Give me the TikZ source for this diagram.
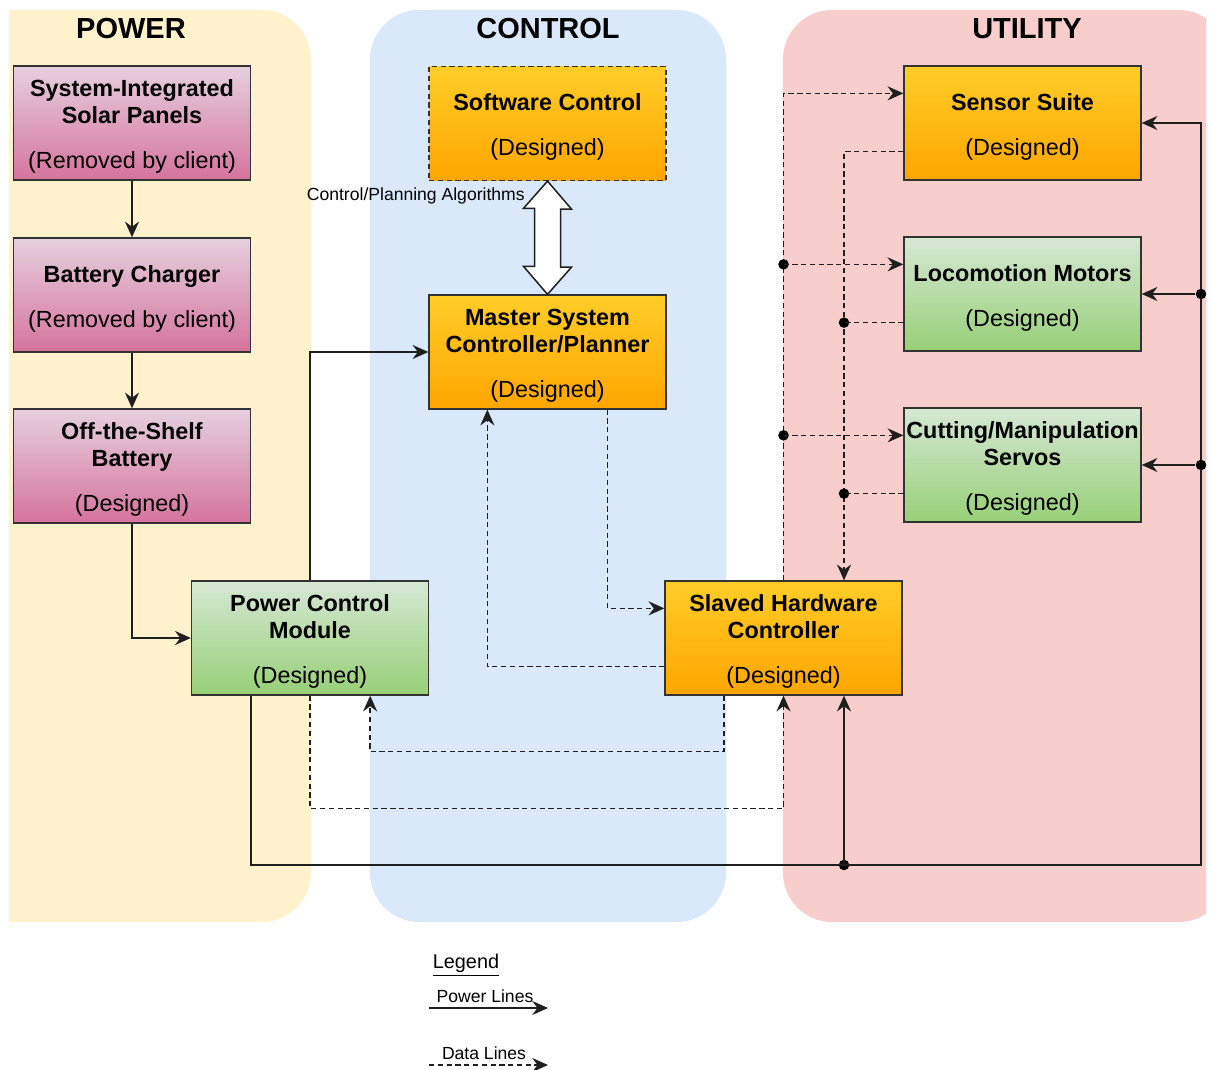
\documentclass[tikz,border=0pt]{standalone}
\usepackage{fontspec}
\setmainfont{Liberation Sans}
\usetikzlibrary{arrows.meta,calc}

\definecolor{lanepower}{HTML}{FFF2CC}
\definecolor{lanecontrol}{HTML}{DAE8FC}
\definecolor{laneutility}{HTML}{F8CECC}
\definecolor{pinktop}{HTML}{E6D0DE}
\definecolor{pinkbot}{HTML}{D5739D}
\definecolor{greentop}{HTML}{D5E8D4}
\definecolor{greenbot}{HTML}{97D077}
\definecolor{orangetop}{HTML}{FFCD28}
\definecolor{orangebot}{HTML}{FFA500}
\definecolor{wire}{HTML}{1F1F1F}
\definecolor{edge}{HTML}{333333}

% strut on the first line of each block, lowering the text slightly
\newcommand{\firstline}{\rule{0pt}{13.7pt}}

\begin{document}
\begin{tikzpicture}[x=0.02cm,y=-0.02cm,
  unit/.style={draw=edge, line width=0.75pt, minimum width=4.74cm, minimum height=2.28cm,
    inner sep=0pt, align=center, font=\fontsize{13.3}{15.3}\selectfont},
  pinkbox/.style={unit, top color=pinktop, bottom color=pinkbot},
  greenbox/.style={unit, top color=greentop, bottom color=greenbot},
  orangebox/.style={unit, top color=orangetop, bottom color=orangebot},
  wirebase/.style={draw=wire, line width=0.85pt},
  tip/.style={-{Stealth[length=9pt,width=8pt,inset=3pt]}},
  pw/.style={wirebase, tip},
  dt/.style={wirebase, tip, dash pattern=on 3pt off 2pt},
  junction/.style={circle, fill=black, inner sep=0pt, minimum size=6pt},
  lanetitle/.style={font=\fontsize{16.5}{19}\selectfont\bfseries},
  smalltext/.style={font=\fontsize{10}{12}\selectfont, inner sep=0pt},
]
\useasboundingbox (0,0) rectangle (1212,1070);

% swim lanes
\begin{scope}
  \clip (9,0) rectangle (1206,1070);
  \fill[lanepower, rounded corners=28pt] (-60,10) rectangle (311,922);
  \fill[lanecontrol, rounded corners=28pt] (370,10) rectangle (726,922);
  \fill[laneutility, rounded corners=28pt] (783,10) rectangle (1228,922);
\end{scope}

\node[lanetitle] (tpower) at (131,29) {POWER};
\node[lanetitle] (tcontrol) at (548,29) {CONTROL};
\node[lanetitle] (tutility) at (1027,29) {UTILITY};

% power lane
\node[pinkbox] (solar) at (132,123) {\firstline\textbf{System-Integrated}\\\textbf{Solar Panels}\\[10.2pt](Removed by client)};
\node[pinkbox] (charger) at (132,295) {\firstline\textbf{Battery Charger}\\[10.2pt](Removed by client)};
\node[pinkbox] (battery) at (132,466) {\firstline\textbf{Off-the-Shelf}\\\textbf{Battery}\\[10.2pt](Designed)};
\node[greenbox] (pcm) at (310,638) {\firstline\textbf{Power Control}\\\textbf{Module}\\[10.2pt](Designed)};

% control lane
\node[orangebox, dash pattern=on 3pt off 2pt] (soft) at (547.5,123.5) {\firstline\textbf{Software Control}\\[10.2pt](Designed)};
\node[orangebox] (master) at (547.5,352) {\firstline\textbf{Master System}\\\textbf{Controller/Planner}\\[10.2pt](Designed)};
\node[orangebox] (slaved) at (783.5,638) {\firstline\textbf{Slaved Hardware}\\\textbf{Controller}\\[10.2pt](Designed)};

% utility lane
\node[orangebox] (sensor) at (1022.5,123) {\firstline\textbf{Sensor Suite}\\[10.2pt](Designed)};
\node[greenbox] (loco) at (1022.5,294) {\firstline\textbf{Locomotion Motors}\\[10.2pt](Designed)};
\node[greenbox] (servo) at (1022.5,465) {\firstline\textbf{Cutting/Manipulation}\\\textbf{Servos}\\[10.2pt](Designed)};

% software <-> master block arrow
\draw[wirebase, fill=white, line join=miter] (soft.south) -- ++(24,28) -- ++(-11,0) -- ++(0,58)
  -- ++(11,0) -- (master.north) -- ++(-24,-28) -- ++(11,0) -- ++(0,-58) -- ++(-11,0) -- cycle;
\node[smalltext, anchor=east] (algo) at (525,196) {Control/Planning Algorithms};

% power lines
\draw[pw] (solar) -- (charger);
\draw[pw] (charger) -- (battery);
\draw[pw] (battery.south) |- (pcm.west);
\draw[pw] (pcm.north) |- (master.west);
\coordinate (busL) at ($(pcm.south west)+(60,0)$);
\coordinate (busR) at (1201,865);
\node[junction] (jbus) at (844,865) {};
\draw[pw] (busL) |- (busR) |- (sensor.east);
\node[junction] (jloco) at (busR |- loco.east) {};
\node[junction] (jservo) at (busR |- servo.east) {};
\draw[pw] (jloco) -- (loco.east);
\draw[pw] (jservo) -- (servo.east);
\draw[pw] (jbus.center) -- (jbus |- slaved.south);

% data lines
\draw[dt] ($(master.south)+(60,0)$) |- ($(slaved.north west)+(0,28)$);
\draw[dt] ($(slaved.south west)+(0,-29)$) -| ($(master.south west)+(59,0)$);
\draw[dt] ($(slaved.south)+(-59.5,0)$) -- ++(0,56) -| ($(pcm.south east)+(-59,0)$);
\draw[dt] (pcm.south) -- ++(0,113) -| (slaved.south);

\coordinate (sensIn) at ($(sensor.north west)+(0,28)$);
\coordinate (locoIn) at ($(loco.north west)+(0,28)$);
\coordinate (servoIn) at ($(servo.north west)+(0,28)$);
\draw[dt] (slaved.north) |- (sensIn);
\node[junction] (jmi) at (slaved.north |- locoIn) {};
\node[junction] (jsi) at (slaved.north |- servoIn) {};
\draw[dt] (jmi.center) -- (locoIn);
\draw[dt] (jsi.center) -- (servoIn);

\coordinate (sensOut) at ($(sensor.south west)+(0,-29)$);
\coordinate (locoOut) at ($(loco.south west)+(0,-29)$);
\coordinate (servoOut) at ($(servo.south west)+(0,-29)$);
\draw[dt] (sensOut) -| (jbus |- slaved.north);
\node[junction] (jmo) at (jbus |- locoOut) {};
\node[junction] (jso) at (jbus |- servoOut) {};
\draw[dt, -] (locoOut) -- (jmo.center);
\draw[dt, -] (servoOut) -- (jso.center);

% legend
\node[font=\fontsize{11.3}{13}\selectfont, inner sep=0pt] (legend) at (466,965) {\underline{Legend}};
\coordinate (pwA) at (429,1008);
\coordinate (pwB) at (548,1008);
\draw[pw] (pwA) -- (pwB);
\node[smalltext] (pwlabel) at (485,996) {Power Lines};
\coordinate (dtA) at (429,1065);
\coordinate (dtB) at (548,1065);
\draw[dt] (dtA) -- (dtB);
\node[smalltext] (dtlabel) at (484,1053) {Data Lines};
\end{tikzpicture}
\end{document}
